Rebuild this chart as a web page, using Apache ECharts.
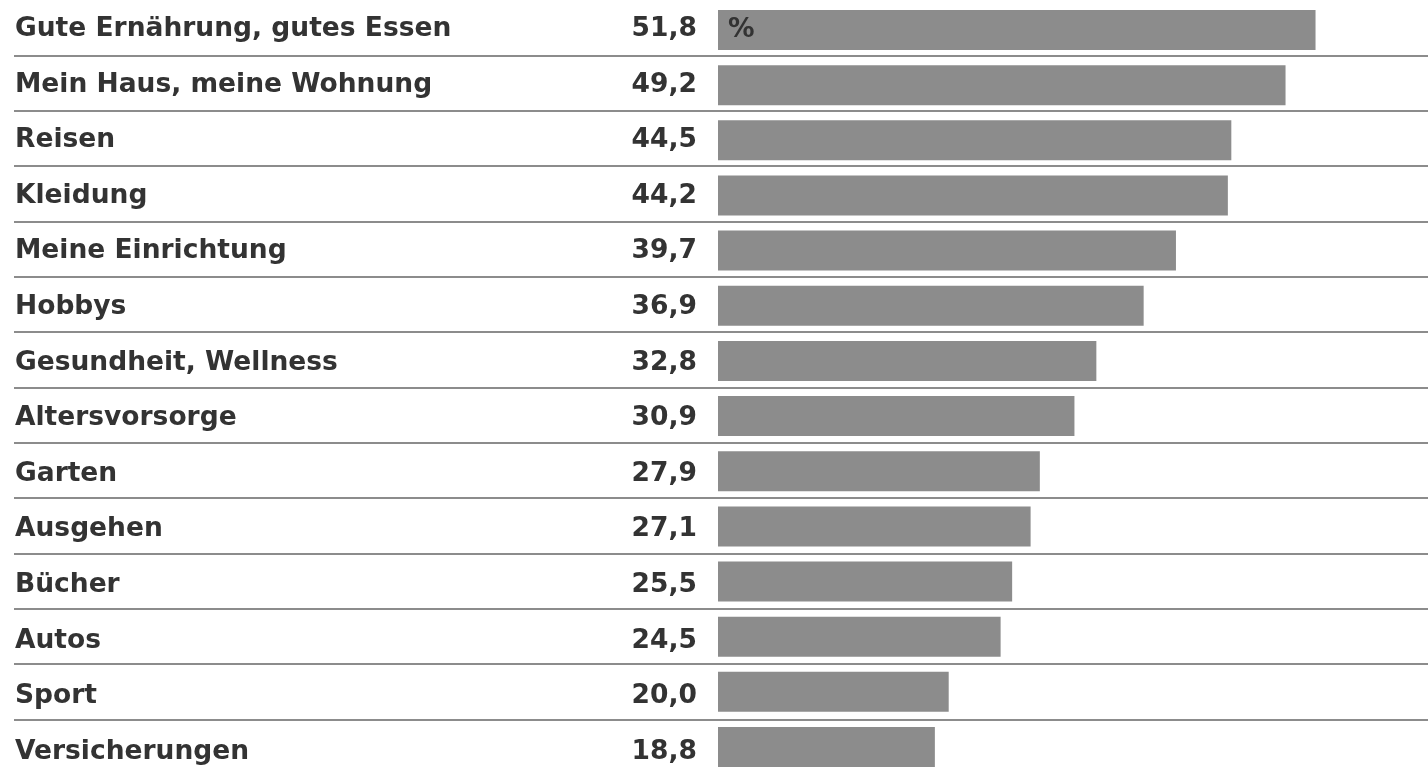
<!DOCTYPE html>
<html>
<head>
<meta charset="utf-8">
<script src="https://cdn.jsdelivr.net/npm/echarts@6/dist/echarts.min.js"></script>
<style>
  html, body { margin: 0; padding: 0; background: #fff; }
  #chart { width: 1428px; height: 768px; }
</style>
</head>
<body>
<div id="chart"></div>
<script>
const categories = [
  'Gute Ernährung, gutes Essen', 'Mein Haus, meine Wohnung', 'Reisen', 'Kleidung',
  'Meine Einrichtung', 'Hobbys', 'Gesundheit, Wellness', 'Altersvorsorge',
  'Garten', 'Ausgehen', 'Bücher', 'Autos', 'Sport', 'Versicherungen'
];
const values = [51.8, 49.2, 44.5, 44.2, 39.7, 36.9, 32.8, 30.9, 27.9, 27.1, 25.5, 24.5, 20.0, 18.8];
const unitLabel = '%';

const FONT = '"DejaVu Sans", sans-serif';
const TEXT = '#333333';
const fmt = v => v.toFixed(1).replace('.', ',');

const chart = echarts.init(document.getElementById('chart'));

const textStyle = { color: TEXT, fontFamily: FONT, fontWeight: 'bold', fontSize: 26.5 };
const noAxisParts = { axisLine: { show: false }, axisTick: { show: false }, splitLine: { show: false } };

chart.setOption({
  backgroundColor: '#ffffff',
  animation: false,
  grid: [
    // bars: first and last row on the grid edges (boundaryGap false)
    { left: 718, right: 0, top: 30, height: 717 },
    // separator rows
    { left: 14, right: 0, top: 55.3, height: 664 },
    // text rows (slightly wider pitch than the bars)
    { left: 718, right: 0, top: 29, height: 723 }
  ],
  xAxis: [
    { gridIndex: 0, type: 'value', min: 0, max: 61.55, show: false },
    { gridIndex: 1, type: 'value', min: 0, max: 1, show: false },
    { gridIndex: 2, type: 'value', min: 0, max: 1, show: false }
  ],
  yAxis: [
    Object.assign({
      gridIndex: 0, type: 'category', inverse: true, boundaryGap: false, data: categories,
      axisLabel: { show: false }
    }, noAxisParts),
    Object.assign({
      gridIndex: 1, type: 'value', inverse: true, min: 1, max: 13, interval: 1,
      axisLine: { show: false }, axisTick: { show: false }, axisLabel: { show: false },
    }, { splitLine: { show: true, lineStyle: { color: '#666666', width: 1.5 } } }),
    Object.assign({
      gridIndex: 2, type: 'category', inverse: true, boundaryGap: false, data: categories,
      axisLabel: Object.assign({ align: 'left', margin: 703 }, textStyle)
    }, noAxisParts),
    Object.assign({
      gridIndex: 2, type: 'category', inverse: true, boundaryGap: false, position: 'left',
      data: values.map(fmt),
      axisLabel: Object.assign({ align: 'right', margin: 21 }, textStyle)
    }, noAxisParts)
  ],
  series: [{
    type: 'bar',
    xAxisIndex: 0,
    yAxisIndex: 0,
    barWidth: 40,
    itemStyle: { color: '#8c8c8c' },
    data: values.map((v, i) => ({
      value: v,
      label: Object.assign({
        show: i === 0,
        position: 'insideLeft',
        distance: 10,
        formatter: unitLabel
      }, textStyle)
    }))
  }]
});
</script>
</body>
</html>
